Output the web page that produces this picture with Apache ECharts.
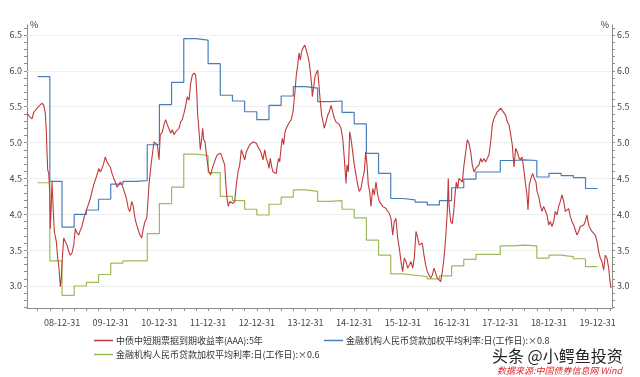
<!DOCTYPE html>
<html>
<head>
<meta charset="utf-8">
<script src="https://cdn.jsdelivr.net/npm/echarts@6/dist/echarts.min.js"></script>
<style>
  html, body { margin: 0; padding: 0; background: #fff; }
  #main { width: 640px; height: 377px; }
</style>
</head>
<body>
<div id="main"></div>
<script>
// 时间以小数年表示
var redDates = [
  2008.281, 2008.337, 2008.384, 2008.419, 2008.487, 2008.542, 2008.589, 2008.624, 2008.657, 2008.678,
  2008.692, 2008.706, 2008.727, 2008.747, 2008.760, 2008.774, 2008.795, 2008.815, 2008.842, 2008.883,
  2008.912, 2008.938, 2008.965, 2008.986, 2009.006, 2009.035, 2009.068, 2009.103, 2009.138, 2009.170,
  2009.205, 2009.240, 2009.273, 2009.308, 2009.343, 2009.376, 2009.411, 2009.446, 2009.478, 2009.513,
  2009.548, 2009.581, 2009.616, 2009.651, 2009.684, 2009.719, 2009.754, 2009.786, 2009.821, 2009.856,
  2009.889, 2009.924, 2009.959, 2009.992, 2010.027, 2010.062, 2010.094, 2010.129, 2010.164, 2010.197,
  2010.232, 2010.267, 2010.324, 2010.361, 2010.396, 2010.431, 2010.464, 2010.499, 2010.534, 2010.567,
  2010.602, 2010.637, 2010.669, 2010.704, 2010.739, 2010.760, 2010.786, 2010.821, 2010.854, 2010.889,
  2010.924, 2010.957, 2010.992, 2011.018, 2011.060, 2011.094, 2011.129, 2011.162, 2011.197, 2011.232,
  2011.265, 2011.300, 2011.335, 2011.368, 2011.402, 2011.437, 2011.470, 2011.505, 2011.540, 2011.573,
  2011.608, 2011.643, 2011.676, 2011.710, 2011.745, 2011.766, 2011.786, 2011.799, 2011.819, 2011.840,
  2011.869, 2011.889, 2011.910, 2011.936, 2011.963, 2011.992, 2012.018, 2012.053, 2012.086, 2012.121,
  2012.156, 2012.189, 2012.224, 2012.259, 2012.292, 2012.341, 2012.361, 2012.388, 2012.415, 2012.444,
  2012.476, 2012.511, 2012.546, 2012.579, 2012.614, 2012.649, 2012.682, 2012.717, 2012.752, 2012.784,
  2012.819, 2012.854, 2012.887, 2012.922, 2012.957, 2012.990, 2013.025, 2013.060, 2013.092, 2013.127,
  2013.162, 2013.195, 2013.230, 2013.251, 2013.277, 2013.306, 2013.333, 2013.368, 2013.400, 2013.421,
  2013.450, 2013.470, 2013.497, 2013.524, 2013.552, 2013.579, 2013.606, 2013.641, 2013.676, 2013.708,
  2013.743, 2013.764, 2013.784, 2013.811, 2013.840, 2013.867, 2013.893, 2013.922, 2013.949, 2013.984,
  2014.016, 2014.051, 2014.072, 2014.099, 2014.127, 2014.140, 2014.168, 2014.195, 2014.222, 2014.251,
  2014.277, 2014.304, 2014.333, 2014.386, 2014.421, 2014.456, 2014.489, 2014.524, 2014.559, 2014.591,
  2014.626, 2014.661, 2014.694, 2014.729, 2014.764, 2014.797, 2014.832, 2014.852, 2014.879, 2014.908,
  2014.934, 2014.969, 2015.002, 2015.037, 2015.072, 2015.105, 2015.140, 2015.175, 2015.207, 2015.236,
  2015.263, 2015.290, 2015.318, 2015.345, 2015.380, 2015.413, 2015.448, 2015.483, 2015.515, 2015.550,
  2015.585, 2015.618, 2015.653, 2015.688, 2015.721, 2015.756, 2015.791, 2015.823, 2015.858, 2015.893,
  2015.926, 2015.961, 2015.996, 2016.029, 2016.064, 2016.099, 2016.131, 2016.166, 2016.201, 2016.234,
  2016.269, 2016.304, 2016.337, 2016.366, 2016.398, 2016.433, 2016.468, 2016.501, 2016.536, 2016.571,
  2016.604, 2016.639, 2016.674, 2016.706, 2016.741, 2016.776, 2016.809, 2016.844, 2016.879, 2016.912,
  2016.932, 2016.947, 2016.982, 2017.014, 2017.049, 2017.070, 2017.097, 2017.125, 2017.152, 2017.187,
  2017.220, 2017.255, 2017.290, 2017.322, 2017.357, 2017.392, 2017.425, 2017.460, 2017.495, 2017.528,
  2017.563, 2017.598, 2017.630, 2017.665, 2017.700, 2017.733, 2017.768, 2017.803, 2017.836, 2017.871,
  2017.906, 2017.938, 2017.973, 2018.008, 2018.041, 2018.076, 2018.111, 2018.144, 2018.179, 2018.214,
  2018.246, 2018.281, 2018.316, 2018.349, 2018.378, 2018.411, 2018.446, 2018.480, 2018.513, 2018.548,
  2018.569, 2018.595, 2018.630, 2018.665, 2018.698, 2018.733, 2018.754, 2018.789, 2018.821, 2018.856,
  2018.891, 2018.924, 2018.959, 2018.994, 2019.027, 2019.062, 2019.097, 2019.129, 2019.164, 2019.199,
  2019.232, 2019.267, 2019.302, 2019.335, 2019.370, 2019.405, 2019.437, 2019.472, 2019.507, 2019.540,
  2019.575, 2019.610, 2019.643, 2019.678, 2019.713, 2019.745, 2019.780, 2019.815, 2019.848, 2019.883,
  2019.918, 2019.951, 2019.986, 2020.021, 2020.053, 2020.088, 2020.123, 2020.156, 2020.191, 2020.226,
  2020.246, 2020.273
];
var redValues = [
  5.41, 5.36, 5.33, 5.42, 5.48, 5.52, 5.55, 5.52, 5.41, 5.15,
  4.87, 4.62, 4.57, 4.32, 3.80, 4.04, 4.45, 4.13, 3.76, 3.62,
  3.39, 3.25, 2.99, 3.11, 3.39, 3.67, 3.62, 3.57, 3.48, 3.43,
  3.46, 3.57, 3.80, 3.74, 3.71, 3.78, 3.83, 3.94, 4.01, 4.08,
  4.15, 4.22, 4.32, 4.41, 4.48, 4.55, 4.64, 4.59, 4.64, 4.71,
  4.80, 4.73, 4.69, 4.66, 4.57, 4.50, 4.45, 4.38, 4.41, 4.45,
  4.41, 4.34, 4.22, 4.08, 4.04, 4.18, 4.11, 3.94, 3.85, 3.78,
  3.71, 3.67, 3.80, 3.90, 3.94, 4.13, 4.41, 4.64, 4.83, 5.01,
  4.99, 4.97, 4.76, 5.11, 5.15, 5.25, 5.32, 5.25, 5.27, 5.13,
  5.18, 5.11, 5.15, 5.13, 5.20, 5.29, 5.32, 5.41, 5.52, 5.64,
  5.59, 5.83, 5.94, 5.97, 5.94, 5.71, 5.38, 5.29, 5.11, 4.90,
  5.06, 5.20, 5.04, 5.01, 4.85, 4.69, 4.59, 4.55, 4.64, 4.71,
  4.78, 4.83, 4.85, 4.85, 4.85, 4.69, 4.45, 4.22, 4.11, 4.18,
  4.20, 4.15, 4.18, 4.41, 4.59, 4.69, 4.90, 4.83, 4.76, 4.87,
  4.92, 4.97, 4.99, 5.01, 5.02, 4.99, 4.94, 4.90, 4.85, 4.76,
  4.90, 4.78, 4.71, 4.64, 4.78, 4.66, 4.59, 4.57, 4.57, 4.69,
  4.78, 4.73, 4.92, 5.06, 4.97, 5.15, 5.20, 5.25, 5.29, 5.32,
  5.43, 5.57, 5.71, 5.94, 6.08, 6.25, 6.15, 6.27, 6.32, 6.36,
  6.29, 6.20, 6.13, 5.99, 5.80, 5.64, 5.78, 5.92, 5.97, 6.01,
  5.80, 5.57, 5.38, 5.20, 5.29, 5.38, 5.43, 5.52, 5.43, 5.34,
  5.29, 5.27, 5.25, 5.20, 5.06, 4.78, 4.43, 4.69, 4.59, 5.15,
  5.06, 4.87, 4.69, 4.55, 4.41, 4.32, 4.36, 4.50, 4.59, 4.87,
  4.69, 4.41, 4.32, 4.11, 4.36, 4.27, 4.45, 4.27, 4.18, 4.20,
  4.11, 4.13, 4.08, 4.06, 4.01, 3.94, 3.71, 3.90, 3.94, 3.67,
  3.53, 3.34, 3.20, 3.39, 3.34, 3.25, 3.29, 3.34, 3.25, 3.39,
  3.76, 3.67, 3.57, 3.55, 3.60, 3.43, 3.29, 3.20, 3.18, 3.11,
  3.15, 3.25, 3.18, 3.11, 3.13, 3.06, 3.20, 3.39, 3.67, 4.04,
  4.50, 4.13, 3.90, 3.87, 4.08, 4.27, 4.45, 4.36, 4.50, 4.52,
  4.45, 4.69, 4.87, 5.04, 4.99, 4.87, 4.69, 4.59, 4.64, 4.64,
  4.69, 4.78, 4.73, 4.78, 4.73, 4.78, 4.83, 5.01, 5.25, 5.34,
  5.38, 5.43, 5.45, 5.48, 5.45, 5.43, 5.38, 5.29, 5.25, 5.11,
  4.97, 4.66, 4.92, 4.87, 4.80, 4.76, 4.80, 4.64, 4.45, 4.27,
  4.06, 4.41, 4.50, 4.57, 4.50, 4.45, 4.32, 4.25, 4.13, 4.04,
  4.11, 4.11, 3.99, 3.85, 3.90, 3.83, 3.90, 4.04, 3.99, 4.11,
  4.18, 4.27, 4.18, 4.04, 4.04, 4.08, 3.97, 3.90, 3.85, 3.83,
  3.71, 3.76, 3.83, 3.83, 3.85, 3.90, 3.99, 3.85, 3.80, 3.76,
  3.74, 3.71, 3.62, 3.48, 3.39, 3.34, 3.22, 3.43, 3.39, 3.25,
  3.11, 2.97
];

// 季度起点（最后一项为结束点）
var quarterStarts = [
  2008.5, 2008.75, 2009.0, 2009.25, 2009.5, 2009.75, 2010.0, 2010.25, 2010.5, 2010.75,
  2011.0, 2011.25, 2011.5, 2011.75, 2012.0, 2012.25, 2012.5, 2012.75, 2013.0, 2013.25,
  2013.5, 2013.75, 2014.0, 2014.25, 2014.5, 2014.75, 2015.0, 2015.25, 2015.5, 2015.75,
  2016.0, 2016.25, 2016.5, 2016.75, 2017.0, 2017.25, 2017.5, 2017.75, 2018.0, 2018.25,
  2018.5, 2018.75, 2019.0, 2019.25, 2019.5, 2019.75, 2020.0
];
var blueValues = [
  5.92, 4.46, 3.82, 4.00, 4.06, 4.21, 4.42, 4.46, 4.47, 4.97,
  5.53, 5.84, 6.45, 6.43, 6.10, 5.66, 5.58, 5.43, 5.32, 5.52,
  5.65, 5.78, 5.76, 5.57, 5.58, 5.42, 5.26, 4.85, 4.57, 4.22,
  4.20, 4.17, 4.13, 4.19, 4.37, 4.49, 4.59, 4.59, 4.75, 4.76,
  4.75, 4.52, 4.57, 4.54, 4.51, 4.36, 4.36
];
var greenValues = [
  4.44, 3.35, 2.87, 3.00, 3.05, 3.16, 3.32, 3.35, 3.35, 3.73,
  4.15, 4.38, 4.84, 4.82, 4.58, 4.25, 4.19, 4.07, 3.99, 4.14,
  4.24, 4.34, 4.32, 4.18, 4.19, 4.07, 3.95, 3.64, 3.43, 3.17,
  3.15, 3.13, 3.10, 3.14, 3.28, 3.37, 3.44, 3.44, 3.56, 3.57,
  3.56, 3.39, 3.43, 3.41, 3.38, 3.27, 3.27
];

var xLabelYears = [2009, 2010, 2011, 2012, 2013, 2014, 2015, 2016, 2017, 2018, 2019, 2020];
var xLabels = ['08-12-31', '09-12-31', '10-12-31', '11-12-31', '12-12-31', '13-12-31',
               '14-12-31', '15-12-31', '16-12-31', '17-12-31', '18-12-31', '19-12-31'];
var xTicks = [
  2008.5, 2008.75, 2009.0, 2009.25, 2009.5, 2009.75, 2010.0, 2010.25, 2010.5, 2010.75,
  2011.0, 2011.25, 2011.5, 2011.75, 2012.0, 2012.25, 2012.5, 2012.75, 2013.0, 2013.25,
  2013.5, 2013.75, 2014.0, 2014.25, 2014.5, 2014.75, 2015.0, 2015.25, 2015.5, 2015.75,
  2016.0, 2016.25, 2016.5, 2016.75, 2017.0, 2017.25, 2017.5, 2017.75, 2018.0, 2018.25,
  2018.5, 2018.75, 2019.0, 2019.25, 2019.5, 2019.75, 2020.0, 2020.25
];
var yLabels = [3.0, 3.5, 4.0, 4.5, 5.0, 5.5, 6.0, 6.5];
var yTicks = [
  2.7, 2.8, 2.9, 3.0, 3.1, 3.2, 3.3, 3.4, 3.5, 3.6, 3.7, 3.8, 3.9, 4.0,
  4.1, 4.2, 4.3, 4.4, 4.5, 4.6, 4.7, 4.8, 4.9, 5.0, 5.1, 5.2, 5.3, 5.4,
  5.5, 5.6, 5.7, 5.8, 5.9, 6.0, 6.1, 6.2, 6.3, 6.4, 6.5, 6.6
];

var nameRed = '中债中短期票据到期收益率(AAA):5年';
var nameBlue = '金融机构人民币贷款加权平均利率:日(工作日):×0.8';
var nameGreen = '金融机构人民币贷款加权平均利率:日(工作日):×0.6';

function pairs(xs, ys) {
  return xs.map(function (x, i) { return [x, ys[i]]; });
}

var font = 'Noto Sans CJK SC';
var axisGray = '#8c8c8c';

function yAxisFor(pos) {
  return {
    type: 'value',
    position: pos,
    min: 2.693,
    max: 6.64,
    name: '%',
    nameLocation: 'end',
    nameGap: 0,
    nameTextStyle: {
      fontFamily: font, fontSize: 9, color: '#333',
      align: pos === 'left' ? 'left' : 'right',
      verticalAlign: 'middle',
      padding: pos === 'left' ? [0, 0, 0, 3] : [0, 3, 0, 0]
    },
    axisLine: { show: true, lineStyle: { color: axisGray, width: 1 } },
    axisTick: { show: true, length: 3, customValues: yTicks, lineStyle: { color: axisGray } },
    axisLabel: {
      customValues: yLabels,
      fontFamily: font, fontSize: 9, color: '#444', margin: 5,
      formatter: function (v) { return v.toFixed(1); }
    },
    splitLine: { show: false }
  };
}

var chart = echarts.init(document.getElementById('main'));

var option = {
  animation: false,
  backgroundColor: '#fff',
  grid: { left: 27, right: 28, top: 25, bottom: 69 },
  xAxis: {
    type: 'value',
    min: 2008.281,
    max: 2020.294,
    axisLine: { lineStyle: { color: axisGray, width: 1 } },
    axisTick: { show: true, length: 3, customValues: xTicks, lineStyle: { color: axisGray } },
    axisLabel: {
      customValues: xLabelYears,
      fontFamily: font, fontSize: 9, color: '#444', margin: 10,
      formatter: function (v) {
        var i = xLabelYears.indexOf(Math.round(v));
        return i >= 0 ? xLabels[i] : '';
      }
    },
    splitLine: { show: false }
  },
  yAxis: [yAxisFor('left'), yAxisFor('right')],
  legend: [
    { data: [nameRed], left: 94, top: 336 },
    { data: [nameBlue], left: 324, top: 336 },
    { data: [nameGreen], left: 94, top: 350 }
  ].map(function (l) {
    return Object.assign(l, {
      icon: 'rect', itemWidth: 19, itemHeight: 1.5, itemGap: 4,
      padding: 0,
      textStyle: { fontFamily: font, fontSize: 9, color: '#333', padding: [0, 0, 0, -2] }
    });
  }),
  graphic: [
    {
      type: 'text', left: 491, top: 347,
      style: {
        text: '头条 @小鳄鱼投资', fontFamily: font, fontSize: 16,
        fill: '#222', stroke: '#fff', lineWidth: 2
      }
    },
    {
      type: 'text', left: 497, top: 366,
      style: {
        text: '数据来源:中国债券信息网 Wind', fontFamily: font, fontSize: 9,
        fontStyle: 'italic', fill: '#e0282a'
      }
    }
  ],
  series: [
    {
      name: nameRed,
      type: 'line',
      z: 4,
      showSymbol: false,
      data: pairs(redDates, redValues),
      lineStyle: { color: '#c0393b', width: 1.1 },
      itemStyle: { color: '#c0393b' }
    },
    {
      name: nameBlue,
      type: 'line',
      step: 'end',
      z: 3,
      showSymbol: false,
      data: pairs(quarterStarts, blueValues),
      lineStyle: { color: '#4a7ebb', width: 1.2 },
      itemStyle: { color: '#4a7ebb' }
    },
    {
      name: nameGreen,
      type: 'line',
      step: 'end',
      z: 2,
      showSymbol: false,
      data: pairs(quarterStarts, greenValues),
      lineStyle: { color: '#9bbb59', width: 1.2 },
      itemStyle: { color: '#9bbb59' },
      markLine: {
        silent: true,
        symbol: 'none',
        z: 1,
        label: { show: false },
        lineStyle: { color: '#efefef', type: 'solid', width: 1 },
        data: yLabels.map(function (v) { return { yAxis: v }; })
      }
    }
  ]
};

chart.setOption(option);
</script>
</body>
</html>
